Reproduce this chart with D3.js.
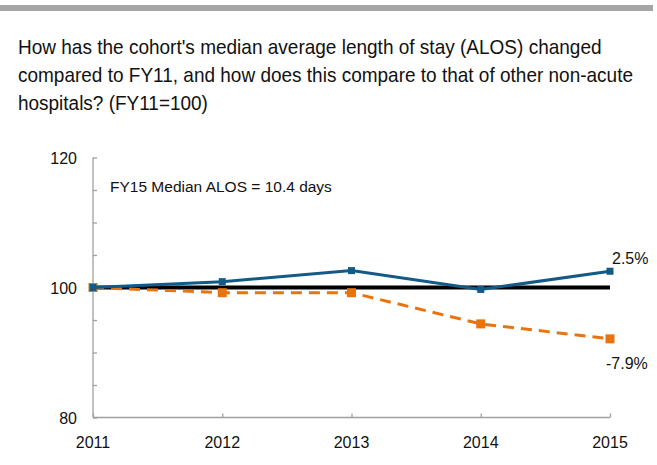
<!DOCTYPE html>
<html><head><meta charset="utf-8">
<script src="https://cdn.jsdelivr.net/npm/d3@7"></script>
<style>
body{margin:0;background:#fff;}
svg{display:block;font-family:"Liberation Sans",Arial,sans-serif;}
</style></head><body>
<svg id="c" width="657" height="465"></svg>
<script>
const years = [2011, 2012, 2013, 2014, 2015];
const cohort = [100, 100.9, 102.6, 99.7, 102.5];
const others = [100, 99.2, 99.2, 94.4, 92.1];
const baseline = [100, 100, 100, 100, 100];
const yTicks = [80, 100, 120];
const yMinor = [80, 85, 90, 95, 100, 105, 110, 115, 120];
const titleLines = [
  "How has the cohort's median average length of stay (ALOS) changed",
  "compared to FY11, and how does this compare to that of other non-acute",
  "hospitals? (FY11=100)"
];
const titleWidths = [584, 615, 190];
const note = "FY15 Median ALOS = 10.4 days";
const endLabels = ["2.5%", "-7.9%"];

const svg = d3.select("#c");
svg.append("rect").attr("x",0).attr("y",5).attr("width",653).attr("height",6).attr("fill","#a6a6a6");

titleLines.forEach((l,i)=>{
  const tx = svg.append("text").attr("font-size",20).attr("fill","#111")
    .attr("x",0).attr("y",0).text(l);
  const w = tx.node().getComputedTextLength();
  const s = titleWidths[i] / w;
  tx.attr("transform",`translate(18,${54+i*28}) scale(${s},1)`);
});

const x = d3.scalePoint().domain(years).range([93,610]);
const y = d3.scaleLinear().domain([80,120]).range([417.5,157.5]);

const axisColor = "#a0a0a0";
const ya = svg.append("g").attr("transform","translate(93,0)")
  .call(d3.axisRight(y).tickValues(yMinor).tickSize(4).tickFormat(""));
ya.selectAll("path,line").attr("stroke",axisColor).attr("stroke-width",1.3);
ya.select("path").attr("d",`M0,${y(120)}V${y(80)}`);
svg.append("g").selectAll("text").data(yTicks).join("text")
  .attr("x",77).attr("y",d=>y(d)+6).attr("text-anchor","end")
  .attr("font-size",16).attr("fill","#111").text(d=>d);

const xa = svg.append("g").attr("transform",`translate(0,${y(80)})`)
  .call(d3.axisTop(x).tickSize(4).tickFormat(""));
xa.selectAll("path,line").attr("stroke",axisColor).attr("stroke-width",1.3);
xa.select("path").attr("d",`M${x(2011)},0H${x(2015)}`);
svg.append("g").selectAll("text").data(years).join("text")
  .attr("x",d=>x(d)).attr("y",y(80)+30).attr("text-anchor","middle")
  .attr("font-size",16).attr("fill","#111").text(d=>d);

const line = d3.line().x((d,i)=>x(years[i])).y(d=>y(d));
svg.append("path").datum(baseline).attr("d",line).attr("fill","none")
  .attr("stroke","#000").attr("stroke-width",4);

svg.append("path").datum(others).attr("d",line).attr("fill","none")
  .attr("stroke","#e8740f").attr("stroke-width",3).attr("stroke-dasharray","11,7");
svg.append("g").selectAll("rect").data(others).join("rect")
  .attr("x",(d,i)=>x(years[i])-4.5).attr("y",d=>y(d)-4.5).attr("width",9).attr("height",9)
  .attr("fill","#e8740f");

svg.append("path").datum(cohort).attr("d",line).attr("fill","none")
  .attr("stroke","#145a86").attr("stroke-width",3);
svg.append("g").selectAll("rect").data(cohort).join("rect")
  .attr("x",(d,i)=>x(years[i])-3.5).attr("y",d=>y(d)-3.5).attr("width",7).attr("height",7)
  .attr("fill","#145a86");

svg.append("text").attr("x",110).attr("y",192).attr("font-size",15.5).attr("fill","#111").text(note);
svg.append("text").attr("x",612).attr("y",y(cohort[4])-7).attr("font-size",16).attr("fill","#111").text(endLabels[0]);
svg.append("text").attr("x",606).attr("y",y(others[4])+30).attr("font-size",16).attr("fill","#111").text(endLabels[1]);
</script></body></html>
